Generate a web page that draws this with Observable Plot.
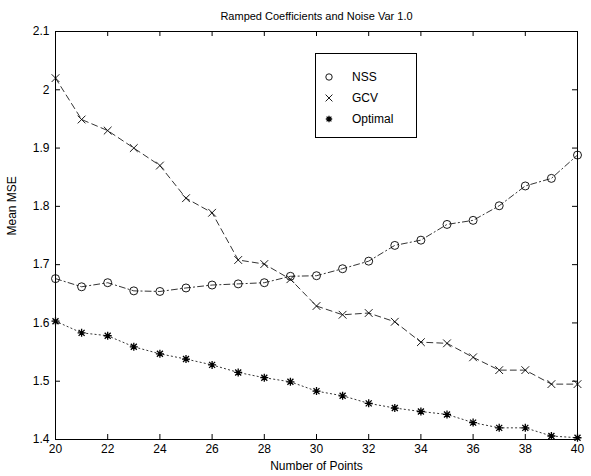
<!DOCTYPE html>
<html>
<head>
<meta charset="utf-8">
<script src="https://cdn.jsdelivr.net/npm/d3@7"></script>
<script src="https://cdn.jsdelivr.net/npm/@observablehq/plot@0.6"></script>
<style>
  body { margin: 0; background: #fff; font-family: "Liberation Sans", Arial, sans-serif; }
  #wrap { position: relative; width: 591px; height: 476px; }
  #legend { position: absolute; left: 315px; top: 53px; width: 100px; height: 83px; border: 1px solid #000; background: #fff; font-size: 12px; }
  .row { position: absolute; left: 0; height: 14px; width: 100px; }
  .row svg { position: absolute; left: 6px; top: 0; }
  .row span { position: absolute; left: 36px; top: 0; line-height: 14px; }
</style>
</head>
<body>
<div id="wrap"></div>
<script>
// ---- data ----
const points  = [20,21,22,23,24,25,26,27,28,29,30,31,32,33,34,35,36,37,38,39,40];
const nss     = [1.676,1.662,1.669,1.655,1.654,1.660,1.665,1.667,1.669,1.680,1.681,1.693,1.706,1.733,1.742,1.769,1.776,1.801,1.835,1.848,1.888];
const gcv     = [2.020,1.949,1.930,1.900,1.870,1.814,1.789,1.708,1.701,1.675,1.629,1.614,1.617,1.602,1.567,1.565,1.541,1.519,1.519,1.495,1.495];
const optimal = [1.603,1.583,1.578,1.559,1.547,1.538,1.528,1.515,1.506,1.499,1.483,1.475,1.462,1.454,1.448,1.443,1.429,1.420,1.420,1.406,1.403];
const seriesNames = ["NSS", "GCV", "Optimal"];
const xTicks = [20,22,24,26,28,30,32,34,36,38,40];
const yTicks = [1.4,1.5,1.6,1.7,1.8,1.9,2.0,2.1];
const yTickLabels = ["1.4","1.5","1.6","1.7","1.8","1.9","2","2.1"];
const title = "Ramped Coefficients and Noise Var 1.0";
const xLabel = "Number of Points";
const yLabel = "Mean MSE";

// ---- layout ----
const W = 591, H = 476, mL = 55, mR = 14, mT = 31, mB = 37;
const innerW = W - mL - mR, innerH = H - mT - mB, tickLen = 5;

// ---- styles ----
const asterisk = {
  draw(ctx, size) {
    const r = Math.sqrt(size / Math.PI);
    const d = r * 0.75;
    ctx.moveTo(-r, 0); ctx.lineTo(r, 0);
    ctx.moveTo(0, -r); ctx.lineTo(0, r);
    ctx.moveTo(-d, -d); ctx.lineTo(d, d);
    ctx.moveTo(-d, d); ctx.lineTo(d, -d);
  }
};
const styles = {
  NSS:     {values: nss,     dash: "6,3,1.2,3", symbol: "circle", r: 4,   sw: 0.9},
  GCV:     {values: gcv,     dash: "6,4",       symbol: "times",  r: 3.6, sw: 0.9},
  Optimal: {values: optimal, dash: "1.2,3",     symbol: asterisk, r: 4,   sw: 1.3}
};

const rows = [];
seriesNames.forEach(s => styles[s].values.forEach((v, j) => rows.push({n: points[j], v, s})));

const font = "Liberation Sans, Arial, sans-serif";
const chart = Plot.plot({
  width: W,
  height: H,
  marginLeft: mL,
  marginRight: mR,
  marginTop: mT,
  marginBottom: mB,
  style: {fontFamily: font, fontSize: "12px", background: "#fff", color: "#000"},
  x: {domain: [20, 40], ticks: xTicks},
  y: {domain: [1.4, 2.1], ticks: yTicks},
  marks: [
    ...seriesNames.map(s => Plot.line(rows.filter(d => d.s === s), {
      x: "n", y: "v", stroke: "black", strokeWidth: 0.8, strokeDasharray: styles[s].dash
    })),
    ...seriesNames.map(s => Plot.dot(rows.filter(d => d.s === s), {
      x: "n", y: "v", symbol: styles[s].symbol, r: styles[s].r, stroke: "black", fill: "none", strokeWidth: styles[s].sw
    })),
    Plot.frame({stroke: "black", strokeWidth: 1}),
    // inward ticks on all four sides
    Plot.tickX(xTicks, {x: d => d, stroke: "black", insetTop: innerH - tickLen}),
    Plot.tickX(xTicks, {x: d => d, stroke: "black", insetBottom: innerH - tickLen}),
    Plot.tickY(yTicks, {y: d => d, stroke: "black", insetRight: innerW - tickLen}),
    Plot.tickY(yTicks, {y: d => d, stroke: "black", insetLeft: innerW - tickLen}),
    Plot.axisX({anchor: "bottom", ticks: xTicks, tickSize: 0, tickPadding: 5, label: null, fontSize: 12}),
    Plot.axisY({anchor: "left", ticks: yTicks, tickSize: 0, tickPadding: 6, label: null, fontSize: 12,
      tickFormat: v => yTickLabels[yTicks.findIndex(t => Math.abs(t - v) < 1e-9)]}),
    Plot.text([title], {frameAnchor: "top", dy: -19, text: d => d, fontSize: 11}),
    Plot.text([xLabel], {frameAnchor: "bottom", dy: 30, text: d => d, fontSize: 12}),
    Plot.text([yLabel], {frameAnchor: "left", dx: -43, rotate: -90, text: d => d, fontSize: 12})
  ]
});
const wrap = document.getElementById("wrap");
wrap.appendChild(chart);

// ---- legend ----
const legend = document.createElement("div");
legend.id = "legend";
const rowTops = [16, 37, 58];
seriesNames.forEach((s, i) => {
  const row = document.createElement("div");
  row.className = "row";
  row.style.top = rowTops[i] + "px";
  const svg = d3.create("svg").attr("width", 14).attr("height", 14);
  const sym = styles[s].symbol;
  const symType = sym === "circle" ? d3.symbolCircle : sym === "times" ? d3.symbolTimes : sym;
  const size = sym === "circle" ? Math.PI * 3.2 * 3.2 : Math.PI * 3.2 * 3.2;
  svg.append("path")
    .attr("transform", "translate(7,7)")
    .attr("d", d3.symbol(symType, size)())
    .attr("fill", "none").attr("stroke", "black").attr("stroke-width", styles[s].sw);
  row.appendChild(svg.node());
  const span = document.createElement("span");
  span.textContent = s;
  row.appendChild(span);
  legend.appendChild(row);
});
wrap.appendChild(legend);
</script>
</body>
</html>
